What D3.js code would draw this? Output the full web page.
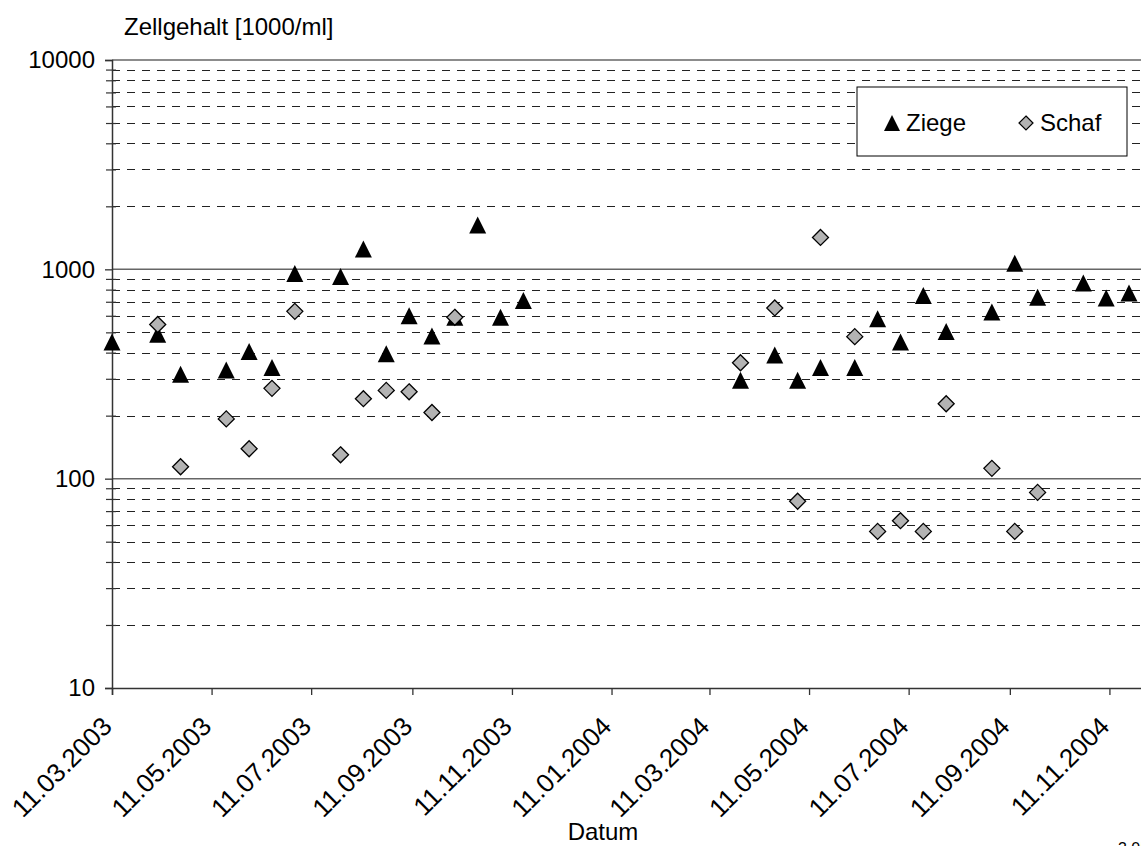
<!DOCTYPE html>
<html>
<head>
<meta charset="utf-8">
<script src="https://cdn.jsdelivr.net/npm/d3@7"></script>
<style>
body { margin: 0; background: #fff; }
svg { display: block; font-family: "Liberation Sans", Arial, sans-serif; }
</style>
</head>
<body>
<svg id="chart" width="1141" height="846"></svg>
<script>
// Ziege (goat) samples
var ziegeDates = ["11.03.2003","08.04.2003","22.04.2003","20.05.2003","03.06.2003","17.06.2003","01.07.2003",
  "29.07.2003","12.08.2003","26.08.2003","09.09.2003","23.09.2003","07.10.2003","21.10.2003","04.11.2003","18.11.2003",
  "30.03.2004","20.04.2004","04.05.2004","18.05.2004","08.06.2004","22.06.2004","06.07.2004","20.07.2004","03.08.2004",
  "31.08.2004","14.09.2004","28.09.2004","26.10.2004","09.11.2004","23.11.2004"];
var ziegeValues = [450, 490, 315, 330, 405, 340, 955,
  925, 1250, 395, 600, 480, 590, 1630, 590, 710,
  295, 390, 295, 340, 340, 580, 450, 750, 505,
  625, 1070, 735, 860, 730, 770];

// Schaf (sheep) samples
var schafDates = ["08.04.2003","22.04.2003","20.05.2003","03.06.2003","17.06.2003","01.07.2003","29.07.2003",
  "12.08.2003","26.08.2003","09.09.2003","23.09.2003","07.10.2003",
  "30.03.2004","20.04.2004","04.05.2004","18.05.2004","08.06.2004","22.06.2004","06.07.2004","20.07.2004",
  "03.08.2004","31.08.2004","14.09.2004","28.09.2004"];
var schafValues = [545, 114, 193, 139, 270, 630, 130,
  241, 264, 260, 207, 590,
  358, 654, 78, 1420, 477, 56, 63, 56,
  228, 112, 56, 86];

var xTickLabels = ["11.03.2003","11.05.2003","11.07.2003","11.09.2003","11.11.2003","11.01.2004",
  "11.03.2004","11.05.2004","11.07.2004","11.09.2004","11.11.2004"];
var yTickValues = [10, 100, 1000, 10000];

var parse = d3.utcParse("%d.%m.%Y");
var svg = d3.select("#chart");

var x = d3.scaleUtc().domain([parse("11.03.2003"), parse("11.01.2005")]).range([112, 1209]);
var y = d3.scaleLog().domain([10, 10000]).range([688, 60]);

var minor = y.ticks().filter(v => !yTickValues.includes(v));

// gridlines
svg.append("g").selectAll("line").data(minor).join("line")
  .attr("x1", 112).attr("x2", 1141)
  .attr("y1", d => Math.round(y(d)) + 0.5).attr("y2", d => Math.round(y(d)) + 0.5)
  .attr("stroke", "#222").attr("stroke-width", 1).attr("stroke-dasharray", "8,7");
svg.append("g").selectAll("line").data(yTickValues.slice(1)).join("line")
  .attr("x1", 112).attr("x2", 1141)
  .attr("y1", d => y(d)).attr("y2", d => y(d))
  .attr("stroke", "#666").attr("stroke-width", 1.5);

// y axis
var yAxis = svg.append("g").attr("transform", "translate(112,0)")
  .call(d3.axisLeft(y).tickValues(yTickValues).tickFormat(d3.format("d")).tickSize(7).tickPadding(10));
yAxis.select(".domain").attr("stroke", "#333").attr("stroke-width", 1.5);
yAxis.selectAll(".tick line").attr("stroke", "#333").attr("stroke-width", 1.3);
yAxis.selectAll(".tick text").style("font-size", "24px").attr("fill", "#000");

var yMinor = svg.append("g").attr("transform", "translate(116,0)")
  .call(d3.axisLeft(y).tickValues(minor).tickFormat("").tickSize(10));
yMinor.select(".domain").remove();
yMinor.selectAll(".tick line").attr("stroke", "#333").attr("stroke-width", 1.2);

// x axis
var xAxis = svg.append("g").attr("transform", "translate(0,688)")
  .call(d3.axisBottom(x).tickValues(xTickLabels.map(parse)).tickFormat(d3.utcFormat("%d.%m.%Y")).tickSize(7));
xAxis.select(".domain").attr("stroke", "#333").attr("stroke-width", 1.5);
xAxis.selectAll(".tick line").attr("stroke", "#333").attr("stroke-width", 1.3);
xAxis.selectAll(".tick text")
  .attr("x", 0).attr("y", 0).attr("dy", 0)
  .attr("transform", "translate(1,40) rotate(-45)")
  .style("text-anchor", "end").style("font-size", "26px").attr("fill", "#000");

// markers
function tri(w, h) { return "M0," + (-h / 2) + "L" + (w / 2) + "," + (h / 2) + "L" + (-w / 2) + "," + (h / 2) + "Z"; }
function dia(r) { return "M0," + (-r) + "L" + r + ",0L0," + r + "L" + (-r) + ",0Z"; }

var ziege = ziegeDates.map((d, i) => [parse(d), ziegeValues[i]]);
var schaf = schafDates.map((d, i) => [parse(d), schafValues[i]]);

svg.append("g").selectAll("path").data(ziege).join("path")
  .attr("d", tri(17, 17))
  .attr("transform", d => "translate(" + x(d[0]) + "," + y(d[1]) + ")")
  .attr("fill", "#000");
svg.append("g").selectAll("path").data(schaf).join("path")
  .attr("d", dia(8))
  .attr("transform", d => "translate(" + x(d[0]) + "," + y(d[1]) + ")")
  .attr("fill", "#b3b3b3").attr("stroke", "#000").attr("stroke-width", 1.3);

// legend
var leg = svg.append("g");
leg.append("rect").attr("x", 857).attr("y", 87).attr("width", 270).attr("height", 69)
  .attr("fill", "#fff").attr("stroke", "#000").attr("stroke-width", 1);
leg.append("path").attr("d", tri(16, 16)).attr("transform", "translate(892,123)").attr("fill", "#000");
leg.append("text").attr("x", 906).attr("y", 131).style("font-size", "24px").text("Ziege");
leg.append("path").attr("d", dia(7)).attr("transform", "translate(1026,123)")
  .attr("fill", "#b3b3b3").attr("stroke", "#000").attr("stroke-width", 1.2);
leg.append("text").attr("x", 1040).attr("y", 131).style("font-size", "24px").text("Schaf");

// titles
svg.append("text").attr("x", 124).attr("y", 35).style("font-size", "24px").text("Zellgehalt [1000/ml]");
svg.append("text").attr("x", 603).attr("y", 840).attr("text-anchor", "middle").style("font-size", "24px").text("Datum");
svg.append("text").attr("x", 1118).attr("y", 854).style("font-size", "16px").text("3.05");
</script>
</body>
</html>
